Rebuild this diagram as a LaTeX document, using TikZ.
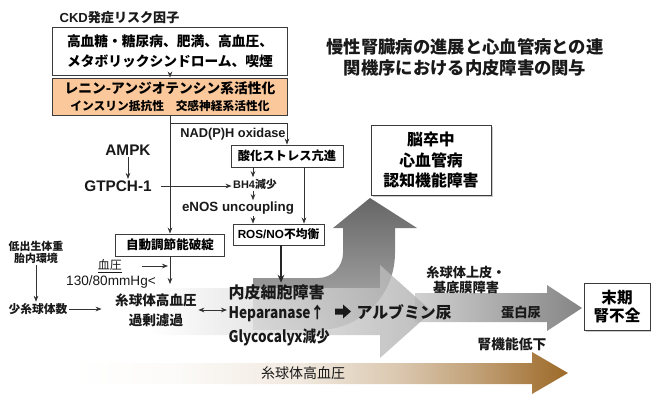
\documentclass[tikz,border=0pt]{standalone}
\usepackage{fontspec}
\setmainfont{Noto Sans CJK JP}
\newfontfamily\la{Liberation Sans}
\newfontfamily\jpn{Noto Sans CJK JP}[FakeStretch=0.85]
\usetikzlibrary{arrows.meta,calc,shadows}
\newcommand\fs[2]{\fontsize{#1}{#2}\selectfont}
\definecolor{peach}{RGB}{250,200,155}
\definecolor{brn}{RGB}{158,107,42}
\definecolor{edge}{RGB}{60,60,60}
\pgfdeclarehorizontalshading{brownsh}{100bp}{color(0bp)=(white); color(25bp)=(white); color(35bp)=(white!97!brn); color(48bp)=(white!85!brn); color(58bp)=(white!62!brn); color(66bp)=(white!35!brn); color(72bp)=(white!10!brn); color(75bp)=(brn); color(100bp)=(brn)}
\begin{document}
\begin{tikzpicture}[x=0.75pt,y=-0.75pt,
  box/.style={draw=edge, line width=0.7pt, fill=white, inner sep=0pt, align=center},
  arr/.style={draw=black!80, line width=0.6pt, -{Stealth[length=4.5pt,width=3.5pt]}},
  dbl/.style={draw=black!80, line width=0.6pt, {Stealth[length=4.5pt,width=3.5pt]}-{Stealth[length=4.5pt,width=3.5pt]}},
  bigarr/.style={draw=black!85, line width=1.5pt, -{Stealth[length=6pt,width=5pt]}},
  lbl/.style={inner sep=1pt, align=center, text=black!90},
  shadowed/.style={drop shadow={shadow xshift=1.5pt, shadow yshift=-1.5pt, fill=black!35, opacity=0.6}}
]
\useasboundingbox (0,0) rectangle (651,394);
% big background arrows
\shade[left color=black!18, right color=black!48] (415,293) -- (547,293) -- (547,285) -- (582,308) -- (547,331) -- (547,322) -- (415,322) -- cycle;
\shade[top color=black!60, bottom color=black!30] (253,278) -- (318,278) arc[start angle=90, end angle=0, radius=25] -- (343,228) -- (333,228) -- (370,198) -- (417,228) -- (395,228) -- (395,253) arc[start angle=0, end angle=90, radius=77] -- (253,330) -- cycle;
\shade[left color=white, right color=black!32, fill opacity=0.8] (150,288) -- (380,288) -- (380,265) -- (432,311.5) -- (380,358) -- (380,335) -- (150,335) -- cycle;
\shade[shading=brownsh] (75,363) -- (532,363) -- (532,352) -- (568,373) -- (532,394) -- (532,384) -- (75,384) -- cycle;
% small black block arrow before the albuminuria label
\fill[black!90] (335,308.5) -- (343,308.5) -- (343,304.5) -- (351,311.5) -- (343,318.5) -- (343,314.5) -- (335,314.5) -- cycle;

% nodes
\node[lbl, anchor=west, font=\bfseries\fs{9.8}{12}] (ckd) at (58,18) {{\la CKD}発症リスク因子};
\node[box, minimum width=235*0.75pt, minimum height=48*0.75pt, font=\bfseries\fs{10.3}{15}] (risk) at (170,51) {高血糖・糖尿病、肥満、高血圧、\\メタボリックシンドローム、喫煙};
\node[box, fill=peach, minimum width=235*0.75pt, minimum height=37*0.75pt] (ras) at (170,96.5) {{\fs{10.3}{12}\bfseries レニン-アンジオテンシン系活性化}\\[1pt]{\fs{8.8}{11}\bfseries インスリン抵抗性　交感神経系活性化}};
\coordinate (br) at (170,123);
\node[lbl, font=\la\bfseries\fs{9.6}{11}] (nadph) at (233,134) {NAD(P)H oxidase};
\node[box, minimum width=112*0.75pt, minimum height=22*0.75pt, font=\bfseries\fs{9.2}{11}] (ox) at (287,156) {酸化ストレス亢進};
\node[lbl, font=\bfseries\fs{8.2}{10}] (bh4) at (255,184) {{\la BH4}減少};
\node[lbl, font=\la\bfseries\fs{10}{12}] (enos) at (238,208) {eNOS uncoupling};
\node[box, minimum width=91*0.75pt, minimum height=21*0.75pt, font=\bfseries\fs{8.8}{10}] (ros) at (278.5,234.5) {{\la ROS/NO}不均衡};
\node[lbl, font=\la\bfseries\fs{11.5}{13}] (ampk) at (128,150) {AMPK};
\node[lbl, font=\la\bfseries\fs{11.5}{13}] (gtpch) at (118,186) {GTPCH-1};
\node[box, minimum width=109*0.75pt, minimum height=22*0.75pt, font=\bfseries\fs{9.4}{11}] (auto) at (170,245) {自動調節能破綻};
\node[lbl, font=\bfseries\fs{8.2}{9}] (lbw) at (36,252) {低出生体重\\胎内環境};
\node[lbl, font=\bfseries\fs{8.8}{10}] (few) at (38,309) {少糸球体数};
\node[lbl, font=\fs{9}{10}] (bp) at (110,266) {\underline{血圧}};
\node[lbl, font=\la\fs{10.2}{12}] (bpv) at (111,282) {130/80mmHg<};
\node[lbl, font=\bfseries\fs{10.2}{15}] (glom) at (156,310) {糸球体高血圧\\過剰濾過};
\node[lbl, anchor=west, font=\bfseries\fs{12}{14}] (endo) at (227,292) {内皮細胞障害};
\node[lbl, anchor=west, font=\jpn\bfseries\fs{12}{14}] (hep) at (227,313) {Heparanase↑};
\node[lbl, anchor=west, font=\jpn\bfseries\fs{12}{14}] (gly) at (227,337) {Glycocalyx減少};
\node[lbl, anchor=west, font=\bfseries\fs{11.9}{14}] (alb) at (355,312) {アルブミン尿};
\node[box, shadowed, minimum width=120*0.75pt, minimum height=70*0.75pt, font=\bfseries\fs{11.9}{15.4}] (cvd) at (431,160) {脳卒中\\心血管病\\認知機能障害};
\node[box, shadowed, minimum width=66*0.75pt, minimum height=47*0.75pt, font=\bfseries\fs{11.7}{13.5}] (esrd) at (617,306.5) {末期\\腎不全};
\node[lbl, font=\bfseries\fs{9.9}{11.25}] (gbm) at (466,280) {糸球体上皮・\\基底膜障害};
\node[lbl, font=\bfseries\fs{10}{12}] (prot) at (521,312) {蛋白尿};
\node[lbl, font=\bfseries\fs{10.3}{12}] (rfd) at (512,344) {腎機能低下};
\node[lbl, font=\fs{10.5}{12}] (ght) at (303,373) {糸球体高血圧};
\node[lbl, font=\bfseries\fs{13}{15.75}] (title) at (465,57) {慢性腎臓病の進展と心血管病との連\\関機序における内皮障害の関与};

% connectors
\coordinate (ax) at (253,0);
\coordinate (bx) at (304,0);
\coordinate (cx) at (281,0);
\coordinate (gt) at (170,284);
\draw[arr] (risk) -- (ras);
\draw[arr] (ras.south) -- (auto.north);
\draw[arr] (br) -| (ox.north);
\draw[arr] (ox.south -| ax) -- (ax |- bh4.north);
\draw[arr] (ax |- bh4.south) -- (ax |- enos.north);
\draw[arr] (ax |- enos.south) -- (ax |- ros.north);
\draw[arr] (ox.south -| bx) -- (bx |- ros.north);
\draw[bigarr] (ros.south -| cx) -- (cx |- endo.north);
\draw[arr] (ampk.south) -- (ampk.south |- gtpch.north);
\draw[arr] ($(gtpch.east)+(8,0)$) -- (gtpch.east -| bh4.west);
\draw[arr] (lbw.south) -- (lbw.south |- few.north);
\draw[arr] (few.east) -- ($(few.east -| glom.west)+(-12,0)$);
\draw[dbl] (glom.east) -- (glom.east -| hep.west);
\draw[arr] ($(bp.east)+(18,0)$) -- ($(bp.east -| auto.south)+(-2,0)$);
\draw[arr] (auto.south) -- (gt);
\end{tikzpicture}
\end{document}
